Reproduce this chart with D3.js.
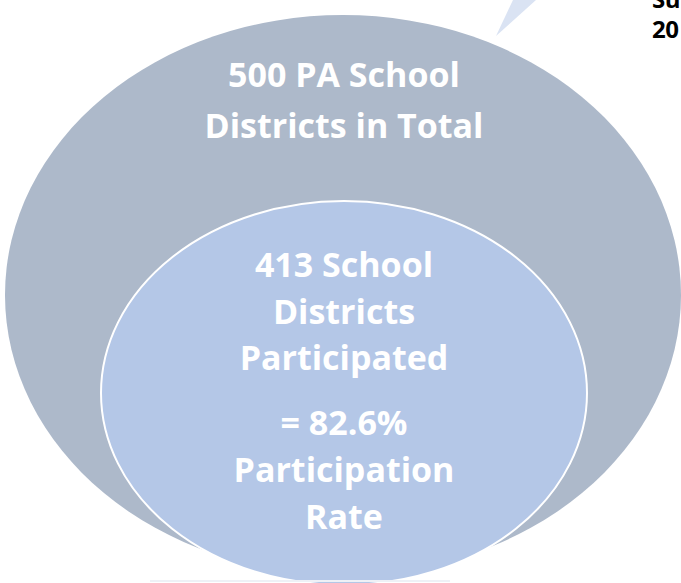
<!DOCTYPE html>
<html>
<head>
<meta charset="utf-8">
<script src="https://cdn.jsdelivr.net/npm/d3@7"></script>
<style>
  html, body { margin: 0; padding: 0; background: #ffffff; overflow: hidden; }
  svg { display: block; }
  text { font-variant-ligatures: none; }
</style>
</head>
<body>
<div id="chart"></div>
<script>
// ---- data ----
const categories = ["All PA School Districts", "Participating School Districts"];
const districtCounts = [500, 413];
const participationRate = [82.6];
const outerLabelLines = ["500 PA School", "Districts in Total"];
const innerLabelLines = ["413 School", "Districts", "Participated"];
const rateLabelLines = ["= 82.6%", "Participation", "Rate"];
const calloutLines = ["Su", "20"];

// ---- layout ----
const W = 681, H = 583;
const svg = d3.select("#chart").append("svg")
  .attr("width", W).attr("height", H);

const font = "'Open Sans', Lato, 'DejaVu Sans', sans-serif";

// Callout pointer (light blue wedge from the top)
svg.append("path")
  .attr("d", d3.line()([[496, 36], [513, 0], [536, 0]]) + "Z")
  .attr("fill", "#dae3f3");

// Outer / inner ellipses
const ellipses = [
  { cat: categories[0], n: districtCounts[0], cx: 343, cy: 295, rx: 338, ry: 280, fill: "#adb9ca", stroke: "none", sw: 0 },
  { cat: categories[1], n: districtCounts[1], cx: 344, cy: 393, rx: 243, ry: 192, fill: "#b4c7e7", stroke: "#ffffff", sw: 2 }
];

svg.selectAll("ellipse.set")
  .data(ellipses)
  .join("ellipse")
  .attr("class", "set")
  .attr("cx", d => d.cx).attr("cy", d => d.cy)
  .attr("rx", d => d.rx).attr("ry", d => d.ry)
  .attr("fill", d => d.fill)
  .attr("stroke", d => d.stroke)
  .attr("stroke-width", d => d.sw);

// faint line at the bottom
svg.append("rect")
  .attr("x", 150).attr("y", 580).attr("width", 300).attr("height", 2)
  .attr("fill", "#eef1f6");

function drawLines(lines, baselines, size) {
  svg.append("g").selectAll("text")
    .data(lines)
    .join("text")
    .attr("x", 344)
    .attr("y", (d, i) => baselines[i])
    .attr("text-anchor", "middle")
    .attr("font-family", font)
    .attr("font-weight", 700)
    .attr("font-size", size)
    .attr("fill", "#ffffff")
    .text(d => d);
}

drawLines(outerLabelLines, [87, 138], 34);
drawLines(innerLabelLines, [277, 324, 370], 34);
drawLines(rateLabelLines, [435, 482, 529], 34);

// Callout text (cut off at the right edge, as in the source)
svg.append("g").selectAll("text")
  .data(calloutLines)
  .join("text")
  .attr("x", 652)
  .attr("y", (d, i) => 8 + i * 30)
  .attr("font-family", font)
  .attr("font-weight", 700)
  .attr("font-size", 24)
  .attr("letter-spacing", -0.5)
  .attr("fill", "#000000")
  .text(d => d);
</script>
</body>
</html>
